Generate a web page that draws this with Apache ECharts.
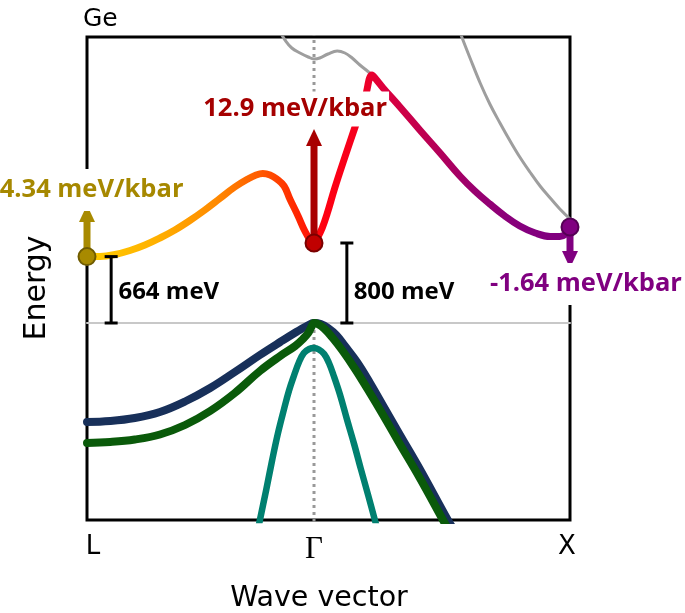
<!DOCTYPE html>
<html><head><meta charset="utf-8">
<script src="https://cdn.jsdelivr.net/npm/echarts@6/dist/echarts.min.js"></script>
<style>html,body{margin:0;padding:0;background:#fff}#c{width:685px;height:613px}</style>
</head><body><div id="c"></div>
<script>
// k-path coordinate (L = 0, Gamma = 0.47, X = 1), energy in eV relative to VBM
const kTicks = [0, 0.47, 1];
const kLabels = ['L', 'Γ', 'X'];

const conductionBand = [
  [0,0.664],[0.027,0.665],[0.058,0.685],[0.089,0.725],[0.120,0.78],[0.151,0.85],[0.182,0.93],
  [0.213,1.025],[0.244,1.13],[0.275,1.245],[0.306,1.36],[0.333,1.44],[0.350,1.48],[0.364,1.495],
  [0.379,1.48],[0.393,1.44],[0.408,1.37],[0.420,1.24],[0.437,1.07],[0.451,0.92],[0.462,0.83],
  [0.470,0.80],[0.478,0.86],[0.487,0.95],[0.497,1.09],[0.513,1.35],[0.534,1.66],[0.555,1.96],
  [0.576,2.26],[0.590,2.48],[0.598,2.44],[0.613,2.35],[0.648,2.16],[0.689,1.93],[0.731,1.70],
  [0.772,1.47],[0.803,1.32],[0.834,1.19],[0.865,1.07],[0.896,0.97],[0.928,0.90],[0.959,0.865],
  [0.979,0.865],[0.992,0.89],[1,0.94]
];
const upperBand1 = [
  [0.400,2.91],[0.410,2.83],[0.424,2.75],[0.441,2.70],[0.458,2.66],[0.470,2.64],[0.482,2.65],
  [0.499,2.69],[0.518,2.72],[0.534,2.70],[0.549,2.65],[0.565,2.58],[0.578,2.53],[0.590,2.48]
];
const upperBand2 = [
  [0.768,2.97],[0.776,2.86],[0.793,2.65],[0.814,2.40],[0.834,2.19],[0.855,2.00],[0.876,1.82],
  [0.896,1.66],[0.917,1.51],[0.938,1.37],[0.959,1.25],[0.979,1.14],[1,1.04]
];
const heavyHole = [
  [0,-0.99],[0.048,-0.98],[0.099,-0.95],[0.151,-0.89],[0.203,-0.785],[0.255,-0.65],[0.306,-0.49],
  [0.358,-0.32],[0.400,-0.19],[0.435,-0.085],[0.455,-0.03],[0.470,0],[0.484,-0.01],
  [0.499,-0.05],[0.516,-0.12],[0.534,-0.23],[0.559,-0.39],[0.586,-0.60],[0.617,-0.86],[0.648,-1.12],
  [0.689,-1.46],[0.747,-1.97],[0.756,-2.04]
];
const lightHole = [
  [0,-1.20],[0.048,-1.19],[0.099,-1.165],[0.151,-1.115],[0.203,-1.02],[0.255,-0.88],[0.306,-0.70],
  [0.358,-0.48],[0.400,-0.33],[0.431,-0.23],[0.447,-0.16],[0.458,-0.10],[0.464,-0.045],
  [0.470,0],[0.478,-0.01],[0.491,-0.055],[0.507,-0.14],[0.528,-0.27],[0.555,-0.46],[0.582,-0.67],
  [0.613,-0.92],[0.644,-1.18],[0.689,-1.55],[0.737,-1.97],[0.745,-2.04]
];
const splitOff = [
  [0.350,-2.17],[0.358,-1.97],[0.371,-1.67],[0.383,-1.38],[0.395,-1.11],[0.408,-0.86],[0.418,-0.68],
  [0.429,-0.52],[0.439,-0.39],[0.449,-0.30],[0.460,-0.26],[0.470,-0.25],[0.480,-0.265],[0.491,-0.31],
  [0.501,-0.40],[0.511,-0.53],[0.524,-0.72],[0.538,-0.96],[0.553,-1.21],[0.567,-1.46],[0.582,-1.72],
  [0.596,-1.97],[0.606,-2.15]
];
const vbmLine = [[0,0],[1,0]];
const gammaLineTop = [[0.47,2.9],[0.47,2.31]];
const gammaLineBottom = [[0.47,0],[0.47,-2.0]];

const valleyPoints = [[0,0.664],[0.47,0.80],[1,0.96]];
const valleyFill = ['#A88A00','#C00000','#800080'];
const valleyStroke = ['#705C00','#7A0000','#550055'];
const pressureArrows = [[0,0.664,0,1.18],[0.47,0.80,0.47,1.94],[1,0.96,1,0.55]];
const arrowColors = ['#A88A00','#A80000','#800080'];
const pressureLabels = ['4.34 meV/kbar','12.9 meV/kbar','-1.64 meV/kbar'];
const pressureLabelPos = [[0.0095,1.33],[0.431,2.14],[1.033,0.39]];
const pressureLabelColors = ['#A68800','#A50000','#800080'];
const pressureLabelPad = [[8,2,8,2],[1,2,8,2],[8,2,8,2]];
const gapBrackets = [[0.050,0.664,0],[0.538,0.80,0]];
const gapLabels = ['664 meV','800 meV'];
const gapLabelPos = [[0.064,0.31],[0.551,0.31]];

const chart = echarts.init(document.getElementById('c'), null, {renderer:'canvas'});

const cbGradient = new echarts.graphic.LinearGradient(0,0,1,0,[
  {offset:0,color:'#FFCE00'},{offset:0.15,color:'#FFB000'},{offset:0.27,color:'#FF8A00'},
  {offset:0.36,color:'#FF5A00'},{offset:0.43,color:'#FF2A00'},{offset:0.49,color:'#FF0010'},
  {offset:0.56,color:'#F5001E'},{offset:0.61,color:'#DE003C'},{offset:0.70,color:'#BC0052'},
  {offset:0.80,color:'#980070'},{offset:0.9,color:'#84007E'},{offset:1,color:'#800080'}
]);

function lineSeries(data, color, width, z, extra) {
  return Object.assign({
    type:'line', data, showSymbol:false, symbol:'none', smooth:0.4, z,
    lineStyle:{color, width, cap:'round', join:'round'}, silent:true, animation:false
  }, extra || {});
}

const tickRich = {
  l:{fontFamily:'DejaVu Sans', fontSize:26, color:'#000', padding:[0,0,0,12]},
  g:{fontFamily:'Liberation Serif', fontSize:31, color:'#000'},
  x:{fontFamily:'DejaVu Sans', fontSize:26, color:'#000', padding:[0,6,0,0]}
};
const tickKeys = ['l','g','x'];

chart.setOption({
  animation:false,
  backgroundColor:'#fff',
  title:{text:'Ge', left:78, top:2, textStyle:{fontFamily:'DejaVu Sans', fontSize:25, fontWeight:'normal', color:'#000'}},
  graphic:[
    {type:'text', x:37, y:288, rotation:Math.PI/2, silent:true,
     style:{text:'Energy', fontFamily:'DejaVu Sans', fontSize:30, fill:'#000', align:'center', verticalAlign:'middle'}},
    {type:'text', x:319, y:599, silent:true,
     style:{text:'Wave vector', fontFamily:'DejaVu Sans', fontSize:28.5, fill:'#000', align:'center', verticalAlign:'middle'}}
  ],
  grid:{left:87, right:115, top:37, bottom:93, show:true, borderColor:'#000', borderWidth:3, backgroundColor:'transparent'},
  xAxis:{
    type:'value', min:0, max:1,
    axisLine:{show:false}, axisTick:{show:false}, splitLine:{show:false},
    axisLabel:{
      customValues:kTicks, margin:14, showMinLabel:true, showMaxLabel:true,
      formatter:(v)=>{ const i = kTicks.findIndex(t=>Math.abs(t-v)<1e-6); return i<0?'':'{'+tickKeys[i]+'|'+kLabels[i]+'}'; },
      rich:tickRich
    }
  },
  yAxis:{
    type:'value', min:-1.97, max:2.86,
    axisLine:{show:false}, axisTick:{show:false}, splitLine:{show:false}, axisLabel:{show:false}
  },
  series:[
    lineSeries(vbmLine, '#C8C8C8', 2, 1, {smooth:false}),
    lineSeries(gammaLineTop, '#999999', 3, 2, {smooth:false, lineStyle:{color:'#999', width:3, type:[3,4], cap:'butt'}}),
    lineSeries(gammaLineBottom, '#999999', 3, 2, {smooth:false, lineStyle:{color:'#999', width:3, type:[3,4], cap:'butt'}}),
    lineSeries(upperBand1, '#9E9E9E', 3, 2),
    lineSeries(upperBand2, '#9E9E9E', 3, 2),
    lineSeries(heavyHole, '#18305A', 8, 3),
    lineSeries(lightHole, '#0A5A0A', 8, 3),
    lineSeries(splitOff, '#008070', 6.5, 3),
    lineSeries(conductionBand, cbGradient, 7, 4),
    {
      type:'custom', coordinateSystem:'cartesian2d', z:5, silent:true, clip:false,
      data:gapBrackets, encode:{x:0, y:[1,2]},
      renderItem:(params, api)=>{
        const a = api.coord([api.value(0), api.value(1)]);
        const b = api.coord([api.value(0), api.value(2)]);
        const hw = 6.5, st = {stroke:'#000', lineWidth:3};
        return {type:'group', children:[
          {type:'line', shape:{x1:a[0], y1:a[1], x2:b[0], y2:b[1]}, style:st},
          {type:'line', shape:{x1:a[0]-hw, y1:a[1], x2:a[0]+hw, y2:a[1]}, style:st},
          {type:'line', shape:{x1:b[0]-hw, y1:b[1], x2:b[0]+hw, y2:b[1]}, style:st}
        ]};
      }
    },
    {
      type:'custom', coordinateSystem:'cartesian2d', z:6, silent:true, clip:false,
      data:pressureArrows, encode:{x:[0,2], y:[1,3]},
      renderItem:(params, api)=>{
        const p0 = api.coord([api.value(0), api.value(1)]);
        const p1 = api.coord([api.value(2), api.value(3)]);
        const dx = p1[0]-p0[0], dy = p1[1]-p0[1], len = Math.hypot(dx,dy);
        const ux = dx/len, uy = dy/len, nx = -uy, ny = ux;
        const hl = 17, hw = 8;
        const bx = p1[0]-ux*hl, by = p1[1]-uy*hl;
        const color = arrowColors[params.dataIndex];
        return {type:'group', children:[
          {type:'line', shape:{x1:p0[0], y1:p0[1], x2:bx+ux, y2:by+uy}, style:{stroke:color, lineWidth:7}},
          {type:'polygon', shape:{points:[[p1[0],p1[1]],[bx+nx*hw,by+ny*hw],[bx-nx*hw,by-ny*hw]]}, style:{fill:color}}
        ]};
      }
    },
    {
      type:'scatter', z:7, silent:true, clip:false, symbol:'circle', symbolSize:17,
      data:valleyPoints.map((p,i)=>({value:p, itemStyle:{color:valleyFill[i], borderColor:valleyStroke[i], borderWidth:2, opacity:1}}))
    },
    {
      type:'scatter', z:10, silent:true, clip:false, symbol:'circle', symbolSize:1,
      itemStyle:{color:'rgba(0,0,0,0)', opacity:1},
      data:pressureLabels.map((t,i)=>({
        value:pressureLabelPos[i],
        label:{show:true, position:'inside', formatter:t, color:pressureLabelColors[i],
          fontFamily:'Open Sans', fontWeight:'bold', fontSize:25.5, lineHeight:26,
          backgroundColor:'#fff', padding:pressureLabelPad[i]}
      })).concat(gapLabels.map((t,i)=>({
        value:gapLabelPos[i],
        label:{show:true, position:'right', distance:0, formatter:t, color:'#000',
          fontFamily:'Open Sans', fontWeight:'bold', fontSize:24, lineHeight:26}
      })))
    }
  ]
});
</script></body></html>
